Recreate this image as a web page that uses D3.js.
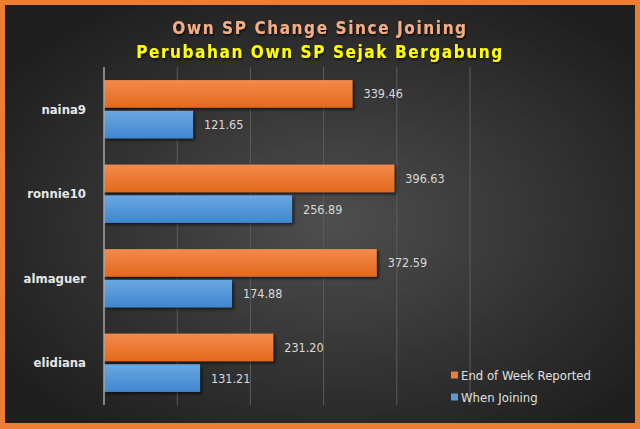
<!DOCTYPE html>
<html>
<head>
<meta charset="utf-8">
<script src="https://cdn.jsdelivr.net/npm/d3@7"></script>
<style>
  body { margin: 0; background: #ED7D31; }
  svg { display: block; }
</style>
</head>
<body>
<script>
// chart data
var names = ["naina9", "ronnie10", "almaguer", "elidiana"];
var endOfWeek = [339.46, 396.63, 372.59, 231.20];
var whenJoining = [121.65, 256.89, 174.88, 131.21];
var seriesNames = ["End of Week Reported", "When Joining"];
var xTicks = [0, 100, 200, 300, 400, 500];

var width = 640, height = 429;
var orange = "#ED7D31";
var cond = "DejaVu Sans Condensed, DejaVu Sans, sans-serif";

var svg = d3.select("body").append("svg")
    .attr("width", width)
    .attr("height", height);

var defs = svg.append("defs");

// background radial gradient
var bg = defs.append("radialGradient")
    .attr("id", "bg")
    .attr("cx", "52%").attr("cy", "52%").attr("r", "62%");
bg.append("stop").attr("offset", "0%").attr("stop-color", "#4e4e4e");
bg.append("stop").attr("offset", "100%").attr("stop-color", "#1f1f1f");

function barGrad(id, top, bottom) {
    var g = defs.append("linearGradient")
        .attr("id", id)
        .attr("x1", 0).attr("y1", 0).attr("x2", 0).attr("y2", 1);
    g.append("stop").attr("offset", "0%").attr("stop-color", top);
    g.append("stop").attr("offset", "100%").attr("stop-color", bottom);
}
barGrad("gOrange", "#F48A4B", "#E3691C");
barGrad("gBlue", "#6BA7E2", "#3F86CF");

var shadow = defs.append("filter").attr("id", "shadow")
    .attr("x", "-5%").attr("y", "-20%").attr("width", "115%").attr("height", "160%");
shadow.append("feDropShadow")
    .attr("dx", 2).attr("dy", 2).attr("stdDeviation", 1.5)
    .attr("flood-color", "#000").attr("flood-opacity", 0.6);

var txtShadow = defs.append("filter").attr("id", "tshadow");
txtShadow.append("feDropShadow")
    .attr("dx", 1).attr("dy", 1.5).attr("stdDeviation", 0.8)
    .attr("flood-color", "#000").attr("flood-opacity", 0.8);

// orange frame + dark panel
svg.append("rect").attr("width", width).attr("height", height).attr("fill", orange);
svg.append("rect")
    .attr("x", 5).attr("y", 5)
    .attr("width", 630).attr("height", 418)
    .attr("fill", "url(#bg)");

// titles
svg.append("text")
    .attr("x", 320).attr("y", 34)
    .attr("text-anchor", "middle")
    .attr("font-family", cond)
    .attr("font-weight", "bold")
    .attr("font-size", 17)
    .attr("letter-spacing", 1.6)
    .attr("fill", "#F3AE86")
    .attr("filter", "url(#tshadow)")
    .text("Own SP Change Since Joining");

svg.append("text")
    .attr("x", 320).attr("y", 58)
    .attr("text-anchor", "middle")
    .attr("font-family", cond)
    .attr("font-weight", "bold")
    .attr("font-size", 17)
    .attr("letter-spacing", 1.6)
    .attr("fill", "#FFFF00")
    .attr("filter", "url(#tshadow)")
    .text("Perubahan Own SP Sejak Bergabung");

// scales
var x = d3.scaleLinear().domain([0, 500]).range([104, 470]);
var y = d3.scaleBand().domain(names).range([67, 405]).paddingInner(0.31).paddingOuter(0.155);
var sub = d3.scaleBand().domain([0, 1]).range([0, y.bandwidth()]).paddingInner(0.1);

// gridlines
svg.append("g").selectAll("line")
    .data(xTicks.slice(1))
    .enter().append("line")
    .attr("x1", function (d) { return x(d); })
    .attr("x2", function (d) { return x(d); })
    .attr("y1", 67).attr("y2", 405)
    .attr("stroke", "#5c5c5c")
    .attr("stroke-width", 1);

var series = [endOfWeek, whenJoining];
var fills = ["url(#gOrange)", "url(#gBlue)"];

series.forEach(function (vals, si) {
    var g = svg.append("g");
    g.selectAll("rect")
        .data(vals)
        .enter().append("rect")
        .attr("x", x(0))
        .attr("y", function (d, i) { return y(names[i]) + sub(si); })
        .attr("width", function (d) { return x(d) - x(0); })
        .attr("height", sub.bandwidth())
        .attr("fill", fills[si])
        .attr("filter", "url(#shadow)");

    g.selectAll("text")
        .data(vals)
        .enter().append("text")
        .attr("x", function (d) { return x(d) + 11; })
        .attr("y", function (d, i) { return y(names[i]) + sub(si) + sub.bandwidth() / 2; })
        .attr("dy", "0.36em")
        .attr("font-family", cond)
        .attr("font-size", 12.5)
        .attr("fill", "#d9d9d9")
        .text(function (d) { return d.toFixed(2); });
});

// y axis line
svg.append("line")
    .attr("x1", x(0)).attr("x2", x(0))
    .attr("y1", 67).attr("y2", 405)
    .attr("stroke", "#a6a6a6")
    .attr("stroke-width", 1.5);

// category labels
svg.append("g").selectAll("text")
    .data(names)
    .enter().append("text")
    .attr("x", 86)
    .attr("y", function (d) { return y(d) + y.bandwidth() / 2; })
    .attr("dy", "0.36em")
    .attr("text-anchor", "end")
    .attr("font-family", cond)
    .attr("font-weight", "bold")
    .attr("font-size", 13)
    .attr("fill", "#e6e6e6")
    .text(function (d) { return d; });

// legend
var legendColors = [orange, "#5B9BD5"];
var legend = svg.append("g").selectAll("g")
    .data(seriesNames)
    .enter().append("g")
    .attr("transform", function (d, i) { return "translate(451," + (375 + i * 22) + ")"; });
legend.append("rect")
    .attr("x", 0).attr("y", -3.5)
    .attr("width", 7).attr("height", 7)
    .attr("fill", function (d, i) { return legendColors[i]; });
legend.append("text")
    .attr("x", 10)
    .attr("dy", "0.36em")
    .attr("font-family", cond)
    .attr("font-size", 13)
    .attr("fill", "#e0e0e0")
    .text(function (d) { return d; });
</script>
</body>
</html>
